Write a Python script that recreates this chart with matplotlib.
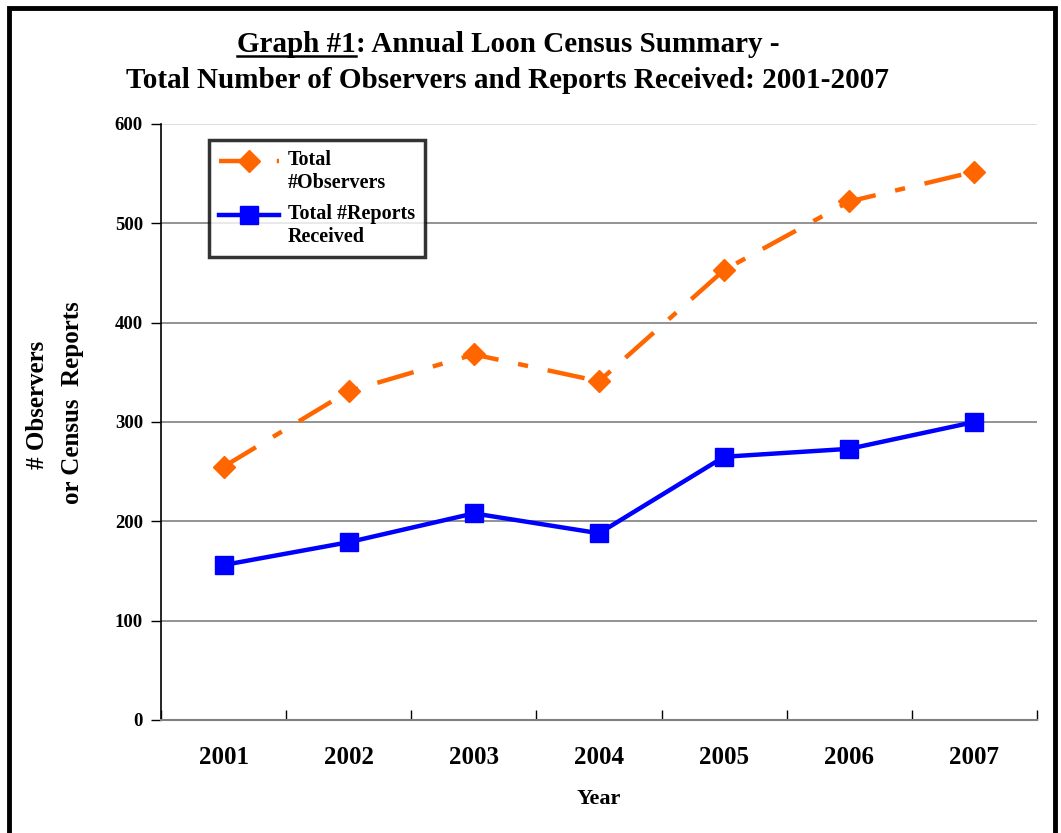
import matplotlib
matplotlib.use("Agg")
import matplotlib.pyplot as plt
from matplotlib.patches import Rectangle
from matplotlib.lines import Line2D
from matplotlib.legend_handler import HandlerLine2D

years = ["2001", "2002", "2003", "2004", "2005", "2006", "2007"]
observers = [255, 331, 368, 341, 453, 522, 552]
reports = [156, 179, 208, 188, 265, 273, 300]
y_ticks = [0, 100, 200, 300, 400, 500, 600]

plt.rcParams['font.family'] = 'Liberation Serif'
plt.rcParams['font.weight'] = 'bold'
FAM = 'Liberation Serif'

W, H = 1061, 833
fig = plt.figure(figsize=(W / 100, H / 100), dpi=100)
fig.patch.set_facecolor('white')

ax = fig.add_axes([161 / W, 1 - 720 / H, (1037 - 161) / W, (720 - 124) / H])
x = list(range(len(years)))

orange = '#FF6600'
blue = '#0000FF'

ax.plot(x, observers, color=orange, lw=3.2, marker='D', markersize=11,
        dashes=(8.5, 4.5, 2.3, 4.5), label='Total\n#Observers', zorder=3)
ax.plot(x, reports, color=blue, lw=3.2, marker='s', markersize=12.5,
        label='Total #Reports\nReceived', zorder=3)

ax.set_xlim(-0.5, len(years) - 0.5)
ax.set_ylim(0, 600)
ax.set_yticks(y_ticks)
ax.set_yticklabels([str(v) for v in y_ticks], fontsize=13.5, fontweight='bold', family=FAM)
ax.set_xticks(x)
ax.set_xticklabels(years, fontsize=18, fontweight='bold', family=FAM)
ax.tick_params(axis='x', length=0, pad=19)
ax.set_xticks([i - 0.5 for i in range(len(years) + 1)], minor=True)
ax.tick_params(axis='x', which='minor', length=7, width=1, color='black', direction='in')
ax.tick_params(axis='y', length=7, width=1, direction='out', pad=6)

for v in y_ticks[1:]:
    ax.axhline(v, color='#808080' if v < 600 else '#D9D9D9', lw=1.2, zorder=1)

for s in ['top', 'right']:
    ax.spines[s].set_visible(False)
ax.spines['left'].set_color('black')
ax.spines['left'].set_linewidth(1.2)
ax.spines['bottom'].set_color('#808080')
ax.spines['bottom'].set_linewidth(1.5)

ax.set_xlabel('Year', fontsize=16, fontweight='bold', family=FAM, labelpad=14)
fig.text(37 / W, 1 - 405 / H, '# Observers', rotation=90, ha='center', va='center',
         fontsize=18, fontweight='bold', family=FAM)
fig.text(72 / W, 1 - 403 / H, 'or Census  Reports', rotation=90, ha='center', va='center',
         fontsize=18, fontweight='bold', family=FAM)


class TopHandler(HandlerLine2D):
    def create_artists(self, legend, orig_handle, xdescent, ydescent, width, height,
                       fontsize, trans):
        return super().create_artists(legend, orig_handle, xdescent, ydescent - 16.5,
                                      width, height, fontsize, trans)


handles, labels = ax.get_legend_handles_labels()
leg = ax.legend(handles, labels, loc='upper left', bbox_to_anchor=(209 / W, 1 - 140 / H),
                bbox_transform=fig.transFigure, prop={'family': FAM, 'weight': 'bold', 'size': 14.5},
                frameon=True, fancybox=False, handlelength=3.0, borderpad=0.5, labelspacing=0.55,
                handletextpad=0.4, borderaxespad=0,
                handler_map={h: TopHandler() for h in handles})
leg.get_frame().set_edgecolor('black')
leg.get_frame().set_linewidth(2.5)

# Title with underlined part
fig.canvas.draw()
renderer = fig.canvas.get_renderer()
tsize = 21
y1 = 1 - 44 / H
t_a = fig.text(0, y1, 'Graph #1', fontsize=tsize, fontweight='bold', family=FAM, va='center', ha='left')
t_b = fig.text(0, y1, ': Annual Loon Census Summary -', fontsize=tsize, fontweight='bold',
               family=FAM, va='center', ha='left')
wa = t_a.get_window_extent(renderer).width
wb = t_b.get_window_extent(renderer).width
cx = 508
start = cx - (wa + wb) / 2
t_a.set_x(start / W)
t_b.set_x((start + wa) / W)
ext = t_a.get_window_extent(renderer)
uy = ext.y0 + 2
fig.add_artist(Line2D([start / W, (start + wa) / W], [uy / H, uy / H],
                      transform=fig.transFigure, color='black', lw=1.8))
fig.text(cx / W, 1 - 80 / H, 'Total Number of Observers and Reports Received: 2001-2007',
         fontsize=tsize, fontweight='bold', family=FAM, ha='center', va='center')

# Outer border
fig.add_artist(Rectangle((9 / W, -0.05), (1055 - 9) / W, 1 - 8 / H + 0.05,
                         transform=fig.transFigure, fill=False, edgecolor='black', lw=3.5))

fig.savefig('out.png', dpi=100, facecolor='white')
